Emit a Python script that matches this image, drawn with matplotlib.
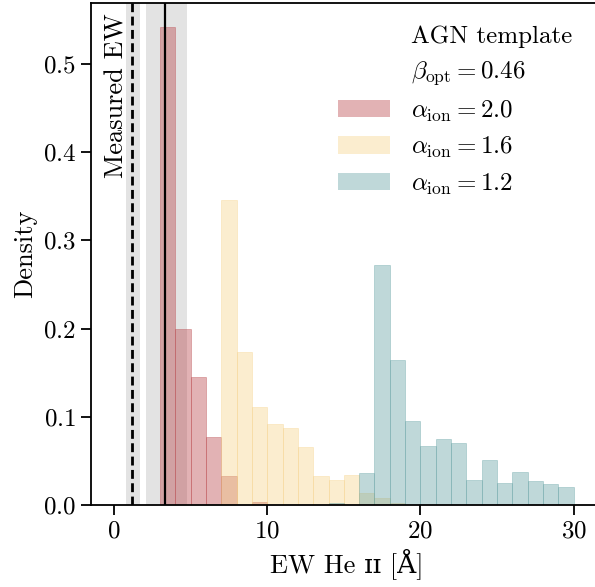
import matplotlib
matplotlib.use("Agg")
import matplotlib.pyplot as plt
import numpy as np
from matplotlib.patches import Patch

plt.rcParams["font.family"] = "serif"
plt.rcParams["font.serif"] = ["cmr10"]
plt.rcParams["mathtext.fontset"] = "cm"
plt.rcParams["axes.formatter.use_mathtext"] = True
plt.rcParams["axes.unicode_minus"] = False

# Densidades por bin (ancho 1 Å)
red_start = 3
red_dens = [0.542, 0.200, 0.145, 0.077, 0.033, 0.0, 0.003]

yel_start = 7
yel_dens = [0.346, 0.1735, 0.111, 0.092, 0.0873, 0.0658, 0.0329, 0.0283,
            0.034, 0.0136, 0.008, 0.002]

blu_start = 14
blu_dens = [0.002, 0.0, 0.036, 0.272, 0.164, 0.095, 0.067, 0.075, 0.070,
            0.028, 0.051, 0.025, 0.0374, 0.027, 0.024, 0.0204]

labels = [r"$\alpha_{\rm ion} = 2.0$", r"$\alpha_{\rm ion} = 1.6$", r"$\alpha_{\rm ion} = 1.2$"]
colors = ["#b73f44", "#f5d287", "#5f9ea0"]

# Valores medidos
ew_measured = 1.2
ew_measured_err = (0.76, 1.68)
ew_model = 3.31
ew_model_err = (2.07, 4.75)

fig = plt.figure(figsize=(5.95, 5.87), dpi=100)
ax = fig.add_axes([0.153, 0.1397, 0.86, 0.855])

ax.axvspan(*ew_measured_err, color="#e3e3e3", lw=0, zorder=0)
ax.axvspan(*ew_model_err, color="#e3e3e3", lw=0, zorder=0)

for start, dens, col, lab in zip([red_start, yel_start, blu_start],
                                 [red_dens, yel_dens, blu_dens], colors, labels):
    edges = np.arange(start, start + len(dens) + 1)
    ax.hist(edges[:-1], bins=edges, weights=dens, color=col, alpha=0.4,
            edgecolor=col, linewidth=0.6, zorder=1)

ax.axvline(ew_measured, color="k", ls=(0, (3.2, 1.6)), lw=2, zorder=3)
ax.axvline(ew_model, color="k", lw=1.6, zorder=3)
ax.text(0.15, 0.558, "Measured EW", rotation=90, ha="center", va="top", fontsize=19)

ax.set_xlim(-1.5, 31.9)
ax.set_ylim(0, 0.569)
ax.set_xticks([0, 10, 20, 30])
ax.set_yticks(np.arange(0, 0.51, 0.1))
ax.set_xlabel("EW He ɪɪ [Å]", fontsize=19, family=["cmr10", "DejaVu Serif"])
ax.set_ylabel("Density", fontsize=19)
ax.tick_params(labelsize=18, length=7.5, width=1.3, direction="out")
for s in ax.spines.values():
    s.set_linewidth(1.3)
ax.spines["right"].set_visible(False)

blank = Patch(facecolor="none", edgecolor="none")
handles = [Patch(facecolor=c, alpha=0.4, edgecolor="none") for c in colors]
ax.legend([blank, blank] + handles,
          ["AGN template", r"$\beta_{\rm opt} = 0.46$"] + labels,
          loc="upper right", bbox_to_anchor=(0.985, 1.0), frameon=False, fontsize=18,
          handlelength=2.1, handletextpad=0.85, labelspacing=0.45)

fig.savefig("out.png", dpi=100)
